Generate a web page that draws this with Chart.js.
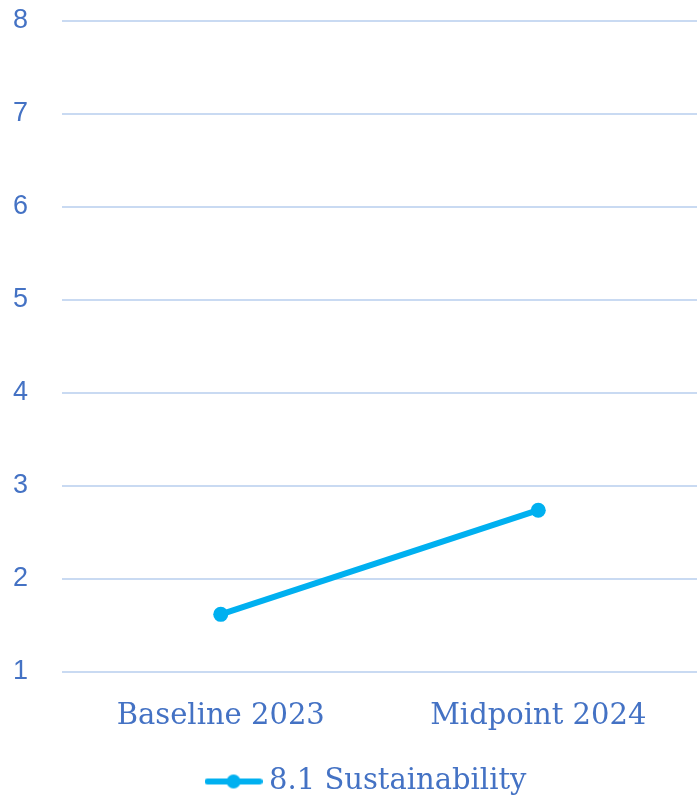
<!DOCTYPE html>
<html>
<head>
<meta charset="utf-8">
<script src="https://cdn.jsdelivr.net/npm/chart.js@4/dist/chart.umd.min.js"></script>
<style>
  html, body { margin: 0; padding: 0; background: #fff; }
  #wrap { width: 697px; height: 801px; }
</style>
</head>
<body>
<div id="wrap"><canvas id="chart"></canvas></div>
<script>
// ---- data ----
const categories = ["Baseline 2023", "Midpoint 2024"];
const seriesLabel = "8.1 Sustainability";
const seriesValues = [1.62, 2.74];
const yTicks = [1, 2, 3, 4, 5, 6, 7, 8];

const LINE_COLOR = "#00B0F0";
const TEXT_COLOR = "#4472C4";
const GRID_COLOR = "#C9DAF2";
const SERIF = "'DejaVu Serif', 'Liberation Serif', serif";
const SANS = "'Liberation Sans', 'DejaVu Sans', sans-serif";

// legend marker: short line with dot in the middle
function legendMarker() {
    const c = document.createElement("canvas");
    c.width = 58; c.height = 16;
    const g = c.getContext("2d");
    g.strokeStyle = LINE_COLOR;
    g.lineWidth = 6;
    g.lineCap = "round";
    g.beginPath(); g.moveTo(3, 8); g.lineTo(55, 8); g.stroke();
    g.fillStyle = LINE_COLOR;
    g.beginPath(); g.arc(29, 8, 7, 0, Math.PI * 2); g.fill();
    return c;
}

// nudge the legend a little right, as in the source
const legendShift = {
    id: "legendShift",
    afterLayout(chart) {
        chart.legend.left += 21;
        chart.legend.right += 21;
    }
};

const ctx = document.getElementById("chart").getContext("2d");
new Chart(ctx, {
    type: "line",
    data: {
        labels: categories,
        datasets: [{
            label: seriesLabel,
            data: seriesValues,
            borderColor: LINE_COLOR,
            backgroundColor: LINE_COLOR,
            borderWidth: 6,
            pointRadius: 7.5,
            pointHoverRadius: 7.5,
            pointBackgroundColor: LINE_COLOR,
            pointBorderWidth: 0,
            tension: 0
        }]
    },
    plugins: [legendShift],
    options: {
        responsive: true,
        maintainAspectRatio: false,
        animation: false,
        layout: { autoPadding: false, padding: { left: 0, right: 0, top: 21, bottom: -5 } },
        plugins: {
            legend: {
                position: "bottom",
                labels: {
                    usePointStyle: true,
                    pointStyleWidth: 42,
                    color: TEXT_COLOR,
                    font: { family: SERIF, size: 29 },
                    padding: 0,
                    generateLabels: chart => chart.data.datasets.map((ds, i) => ({
                        text: ds.label,
                        pointStyle: legendMarker(),
                        fontColor: TEXT_COLOR,
                        datasetIndex: i,
                        lineWidth: 0
                    }))
                }
            },
            tooltip: { enabled: false }
        },
        scales: {
            x: {
                offset: true,
                grid: { display: false },
                border: { display: false },
                afterFit: axis => { axis.height = 95; axis.paddingLeft = 0; axis.paddingRight = 0; },
                ticks: { color: TEXT_COLOR, font: { family: SERIF, size: 29 }, padding: 19 }
            },
            y: {
                min: 1,
                max: 8,
                afterBuildTicks: axis => { axis.ticks = yTicks.map(v => ({ value: v })); },
                afterFit: axis => { axis.width = 62; axis.paddingTop = 0; axis.paddingBottom = 0; },
                grid: { color: GRID_COLOR, lineWidth: 2, drawTicks: false },
                border: { display: false },
                ticks: { color: TEXT_COLOR, font: { family: SANS, size: 27 }, padding: 34 }
            }
        }
    }
});
</script>
</body>
</html>
